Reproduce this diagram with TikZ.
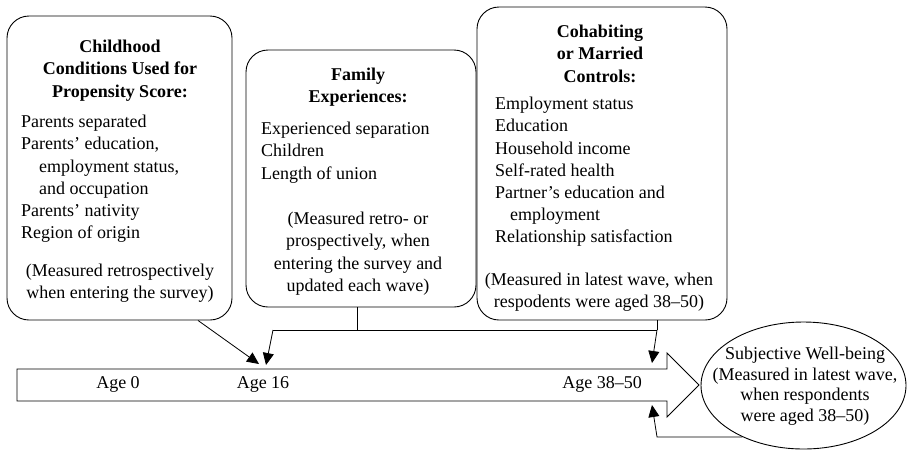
\documentclass[tikz,border=0pt]{standalone}
\usepackage{fontspec}
\setmainfont{Liberation Serif}
\usetikzlibrary{arrows.meta,shapes.geometric}
\begin{document}
\begin{tikzpicture}[x=1pt,y=-1pt,
  box/.style={draw, rounded corners=22pt, line width=0.9pt, inner sep=0pt},
  txt/.style={inner sep=0pt, font=\fontsize{18}{22.2}\selectfont, execute at begin node={\rule{0pt}{13pt}}},
  ttl/.style={txt, anchor=north, align=center, font=\fontsize{18}{22.2}\selectfont\bfseries},
  itm/.style={txt, anchor=north west, align=left},
  nte/.style={txt, anchor=north, align=center},
  lbl/.style={inner sep=0pt, anchor=base, font=\fontsize{18}{22.2}\selectfont},
  ln/.style={line width=0.8pt},
  conn/.style={ln, -{Triangle[length=12pt,width=11pt]}}]
\useasboundingbox (0,0) rectangle (907,451);

% boxes
\node[box, minimum width=225pt, minimum height=304pt] (b1) at (119.5,168) {};
\node[box, minimum width=230pt, minimum height=257pt] (b2) at (361,178.5) {};
\node[box, minimum width=250pt, minimum height=313pt] (b3) at (602,163.5) {};

% box 1 text
\node[ttl] (t1) at (120,40) {Childhood\\Conditions Used for\\Propensity Score:};
\node[itm] (i1) at (21,115) {Parents separated\\Parents' education,\\\hspace*{18pt}employment status,\\\hspace*{18pt}and occupation\\Parents' nativity\\Region of origin};
\node[nte] (n1) at (120,264) {(Measured retrospectively\\when entering the survey)};

% box 2 text
\node[ttl] (t2) at (358,68) {Family\\Experiences:};
\node[itm] (i2) at (261,122) {Experienced separation\\Children\\Length of union};
\node[nte] (n2) at (358,212) {(Measured retro- or\\prospectively, when\\entering the survey and\\updated each wave)};

% box 3 text
\node[ttl] (t3) at (600,25) {Cohabiting\\or Married\\Controls:};
\node[itm] (i3) at (495,97) {Employment status\\Education\\Household income\\Self-rated health\\Partner's education and\\\hspace*{15pt}employment\\Relationship satisfaction};
\node[nte] (n3) at (599,273) {(Measured in latest wave, when\\respodents were aged 38--50)};

% timeline arrow
\draw[line width=0.9pt] (17,369) -- (667,369) -- (667,353) -- (699,385) -- (667,417) -- (667,401) -- (17,401) -- cycle;
\node[lbl] (a0) at (118,388) {Age 0};
\node[lbl] (a16) at (263,388) {Age 16};
\node[lbl] (a38) at (602,388) {Age 38--50};

% outcome
\node[draw, ellipse, line width=0.9pt, minimum width=205pt, minimum height=127pt, inner sep=0pt] (sw) at (803.5,385.5) {};
\node[inner sep=0pt, align=center, font=\fontsize{18}{20.5}\selectfont] (swt) at (805,386)
  {Subjective Well-being\\(Measured in latest wave,\\when respondents\\were aged 38--50)};

% connector targets on the timeline
\coordinate (tA) at (259,364);
\coordinate (tB) at (266,365);
\coordinate (tC) at (652,363);
\coordinate (tD) at (652,405);
\coordinate (barL) at (273,330);
\coordinate (barR) at (657,330);

% connectors
\draw[conn] ([xshift=78.5pt]b1.south) -- (tA);
\draw[ln] ([xshift=-4pt]b2.south) -- ([xshift=-4pt]b2.south |- barL);
\draw[ln] (barL) -- (barR);
\draw[ln] (b3.south -| barR) -- (barR);
\draw[conn] (barL) -- (tB);
\draw[conn] (barR) -- (tC);
\draw[conn] (sw.-140) -- (sw.-140 -| barR) -- (tD);
\end{tikzpicture}
\end{document}
